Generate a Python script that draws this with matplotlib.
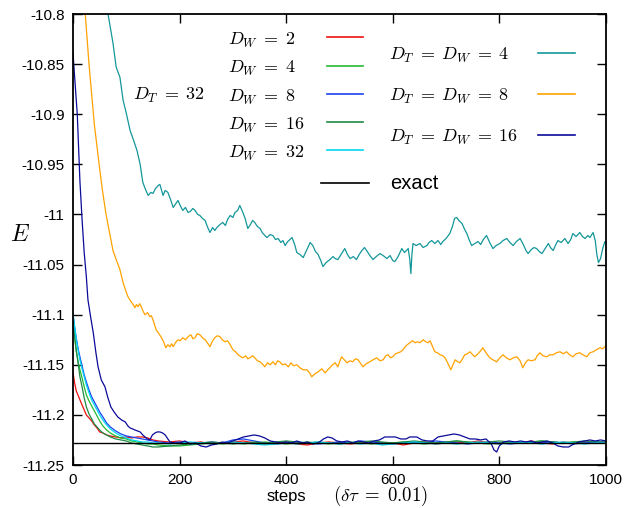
import numpy as np
import matplotlib
matplotlib.use("Agg")
import matplotlib.pyplot as plt
from matplotlib.ticker import FuncFormatter

plt.rcParams['mathtext.fontset'] = 'cm'
plt.rcParams['axes.unicode_minus'] = False
plt.rcParams['font.family'] = ['Liberation Sans', 'DejaVu Sans']

E_exact = -11.228

# D_T = D_W = 4 (teal)
teal_steps = [50, 66, 75, 81, 88, 94, 100, 107, 113, 120, 126, 131, 136, 141, 146, 150, 155, 160, 163, 169,
              173, 178, 183, 188, 193, 197, 202, 206, 211, 216, 220, 225, 229, 234, 238, 243, 248, 252, 257, 262,
              266, 270, 276, 281, 286, 290, 295, 300, 304, 309, 313, 318, 323, 328, 333, 337, 341, 346, 351, 355,
              360, 364, 370, 375, 380, 385, 390, 394, 398, 403, 407, 411, 416, 420, 426, 432, 438, 445, 450, 455,
              460, 465, 469, 475, 482, 488, 492, 497, 503, 510, 515, 520, 526, 532, 537, 542, 547, 551, 557, 563,
              569, 576, 582, 589, 595, 600, 604, 610, 617, 622, 629, 632, 634, 636, 638, 644, 651, 657, 664, 668,
              673, 679, 685, 690, 694, 700, 707, 712, 716, 720, 724, 730, 735, 739, 744, 748, 754, 760, 765, 770,
              776, 782, 788, 794, 801, 807, 814, 820, 826, 832, 839, 845, 850, 854, 860, 865, 870, 875, 880, 886,
              892, 896, 901, 906, 910, 916, 923, 929, 934, 938, 944, 951, 956, 961, 966, 970, 976, 980, 983, 986,
              990, 994, 998, 1000]
teal_E = [-10.770, -10.801, -10.829, -10.853, -10.863, -10.886, -10.899, -10.916, -10.925, -10.936,
          -10.950, -10.968, -10.975, -10.981, -10.978, -10.979, -10.974, -10.971, -10.970, -10.981,
          -10.976, -10.978, -10.985, -10.993, -10.989, -10.986, -10.992, -10.996, -10.993, -10.998,
          -10.997, -10.994, -10.996, -11.000, -11.001, -11.004, -11.006, -11.012, -11.018, -11.013,
          -11.016, -11.013, -11.010, -11.008, -11.011, -11.005, -11.001, -11.003, -10.998, -10.996,
          -10.991, -10.997, -11.004, -11.014, -11.010, -11.006, -11.008, -11.012, -11.014, -11.018,
          -11.021, -11.023, -11.020, -11.021, -11.025, -11.024, -11.028, -11.026, -11.031, -11.027,
          -11.025, -11.023, -11.030, -11.038, -11.040, -11.043, -11.036, -11.028, -11.031, -11.037,
          -11.040, -11.046, -11.052, -11.048, -11.045, -11.042, -11.044, -11.045, -11.040, -11.034,
          -11.040, -11.044, -11.042, -11.045, -11.040, -11.036, -11.033, -11.036, -11.041, -11.045,
          -11.042, -11.039, -11.041, -11.044, -11.041, -11.046, -11.047, -11.042, -11.034, -11.038,
          -11.034, -11.045, -11.059, -11.040, -11.029, -11.031, -11.029, -11.033, -11.031, -11.028,
          -11.026, -11.029, -11.026, -11.030, -11.027, -11.024, -11.019, -11.012, -11.004, -11.003,
          -11.006, -11.009, -11.015, -11.019, -11.026, -11.031, -11.029, -11.027, -11.030, -11.025,
          -11.021, -11.028, -11.034, -11.031, -11.029, -11.026, -11.024, -11.028, -11.031, -11.027,
          -11.024, -11.030, -11.036, -11.039, -11.035, -11.033, -11.034, -11.037, -11.039, -11.034,
          -11.029, -11.033, -11.036, -11.030, -11.026, -11.028, -11.024, -11.029, -11.025, -11.019,
          -11.022, -11.018, -11.022, -11.024, -11.021, -11.023, -11.018, -11.026, -11.040, -11.048,
          -11.044, -11.034, -11.027, -11.029]

# D_T = D_W = 8 (orange)
orange_steps = [15, 23, 30, 35, 40, 49, 55, 62, 70, 75, 81, 88, 94, 99, 103, 109, 113, 116, 119, 122,
                125, 128, 132, 135, 140, 144, 147, 150, 153, 156, 160, 165, 170, 174, 178, 182, 185, 188, 192, 197,
                201, 206, 211, 216, 221, 225, 229, 233, 238, 243, 248, 252, 257, 261, 266, 271, 276, 280, 285, 290,
                295, 300, 305, 310, 315, 319, 324, 328, 332, 337, 341, 346, 351, 355, 360, 365, 370, 375, 380, 384,
                388, 393, 398, 404, 409, 414, 420, 426, 432, 439, 444, 448, 454, 460, 467, 473, 478, 482, 487, 492,
                497, 501, 504, 509, 514, 520, 525, 530, 535, 540, 544, 550, 557, 563, 570, 576, 582, 587, 591, 596,
                600, 605, 610, 615, 619, 625, 632, 637, 642, 646, 651, 657, 662, 666, 670, 675, 679, 684, 689, 694,
                698, 703, 709, 713, 717, 722, 726, 731, 735, 740, 745, 750, 754, 760, 765, 769, 775, 782, 788, 795,
                801, 807, 813, 820, 826, 833, 839, 844, 849, 854, 860, 867, 871, 876, 882, 889, 895, 901, 907, 914,
                920, 926, 932, 938, 944, 951, 957, 964, 970, 976, 982, 989, 994, 1000]
orange_E = [-10.760, -10.800, -10.850, -10.880, -10.910, -10.950, -10.975, -11.000, -11.022, -11.036,
            -11.045, -11.055, -11.068, -11.076, -11.082, -11.087, -11.090, -11.093, -11.090, -11.092,
            -11.089, -11.092, -11.097, -11.100, -11.098, -11.102, -11.101, -11.105, -11.110, -11.115,
            -11.118, -11.122, -11.127, -11.133, -11.130, -11.132, -11.129, -11.132, -11.128, -11.125,
            -11.126, -11.123, -11.125, -11.122, -11.120, -11.124, -11.123, -11.119, -11.120, -11.123,
            -11.125, -11.128, -11.132, -11.127, -11.123, -11.121, -11.122, -11.125, -11.127, -11.126,
            -11.130, -11.135, -11.137, -11.140, -11.142, -11.143, -11.141, -11.144, -11.143, -11.141,
            -11.143, -11.146, -11.147, -11.149, -11.152, -11.148, -11.150, -11.147, -11.150, -11.146,
            -11.147, -11.150, -11.149, -11.152, -11.148, -11.151, -11.150, -11.153, -11.155, -11.155,
            -11.158, -11.162, -11.159, -11.157, -11.154, -11.158, -11.155, -11.153, -11.150, -11.148,
            -11.152, -11.146, -11.142, -11.145, -11.148, -11.146, -11.147, -11.144, -11.145, -11.149,
            -11.152, -11.149, -11.147, -11.145, -11.143, -11.146, -11.145, -11.141, -11.140, -11.143,
            -11.142, -11.139, -11.138, -11.137, -11.135, -11.131, -11.128, -11.126, -11.128, -11.127,
            -11.128, -11.125, -11.127, -11.128, -11.126, -11.132, -11.137, -11.138, -11.140, -11.141,
            -11.143, -11.148, -11.155, -11.150, -11.145, -11.147, -11.148, -11.144, -11.140, -11.139,
            -11.137, -11.140, -11.142, -11.139, -11.136, -11.133, -11.138, -11.143, -11.145, -11.147,
            -11.143, -11.140, -11.143, -11.145, -11.143, -11.142, -11.146, -11.153, -11.148, -11.145,
            -11.146, -11.145, -11.141, -11.138, -11.141, -11.142, -11.140, -11.140, -11.138, -11.137,
            -11.139, -11.137, -11.140, -11.142, -11.139, -11.138, -11.140, -11.142, -11.138, -11.137,
            -11.135, -11.133, -11.134, -11.131]

# D_T = D_W = 16 (navy)
navy_steps = [0, 4, 8, 13, 17, 21, 25, 28, 33, 38, 43, 47, 53, 60, 65, 71, 77, 84, 91, 98,
              103, 107, 112, 116, 121, 126, 131, 135, 140, 144, 149, 154, 158, 163, 168, 173, 178, 182, 190, 200,
              210, 220, 230, 240, 250, 260, 270, 280, 290, 300, 310, 320, 330, 340, 350, 360, 370, 380, 390, 400,
              410, 420, 430, 440, 450, 460, 470, 478, 486, 495, 505, 515, 525, 535, 545, 555, 565, 575, 585, 595,
              605, 615, 625, 632, 645, 655, 665, 675, 685, 695, 705, 715, 725, 735, 745, 755, 765, 775, 785, 790,
              795, 800, 808, 818, 830, 840, 850, 860, 870, 880, 890, 900, 910, 920, 930, 940, 950, 960, 970, 980,
              990, 1000]
navy_E = [-10.839, -10.870, -10.900, -10.967, -11.005, -11.038, -11.062, -11.085, -11.102, -11.118,
          -11.138, -11.152, -11.165, -11.172, -11.182, -11.192, -11.197, -11.202, -11.205, -11.207,
          -11.211, -11.213, -11.214, -11.215, -11.216, -11.217, -11.220, -11.222, -11.224, -11.225,
          -11.220, -11.218, -11.217, -11.217, -11.218, -11.220, -11.224, -11.227, -11.228, -11.228,
          -11.226, -11.229, -11.228, -11.231, -11.232, -11.230, -11.229, -11.227, -11.228, -11.226,
          -11.224, -11.222, -11.221, -11.220, -11.221, -11.223, -11.226, -11.227, -11.228, -11.227,
          -11.228, -11.226, -11.228, -11.227, -11.229, -11.228, -11.224, -11.222, -11.223, -11.226,
          -11.227, -11.226, -11.228, -11.226, -11.227, -11.228, -11.226, -11.225, -11.222, -11.222,
          -11.222, -11.224, -11.224, -11.222, -11.222, -11.225, -11.226, -11.226, -11.222, -11.221,
          -11.220, -11.219, -11.220, -11.222, -11.224, -11.224, -11.225, -11.224, -11.229, -11.235,
          -11.237, -11.231, -11.227, -11.226, -11.227, -11.226, -11.227, -11.226, -11.228, -11.227,
          -11.226, -11.228, -11.231, -11.232, -11.232, -11.229, -11.227, -11.226, -11.225, -11.226,
          -11.225, -11.226]

# D_T = 32, various D_W
low_steps = [0, 3, 6, 10, 13, 17, 21, 25, 30, 35, 40, 45, 50, 56, 63, 70, 80, 90, 100, 110,
             120, 130, 140, 150, 160, 180, 200, 220, 240, 260, 280, 300, 320, 340, 360, 380, 400, 420, 440, 460,
             480, 500, 520, 540, 560, 580, 600, 620, 640, 660, 680, 700, 720, 740, 760, 780, 800, 820, 840, 860,
             880, 900, 920, 940, 960, 980, 1000]
dw2_E = [-11.158, -11.168, -11.176, -11.181, -11.185, -11.190, -11.195, -11.200, -11.203, -11.206,
         -11.210, -11.213, -11.217, -11.218, -11.220, -11.221, -11.222, -11.223, -11.222, -11.223,
         -11.222, -11.222, -11.223, -11.225, -11.226, -11.227, -11.226, -11.228, -11.227, -11.229,
         -11.228, -11.227, -11.226, -11.228, -11.229, -11.228, -11.227, -11.229, -11.230, -11.228,
         -11.227, -11.228, -11.229, -11.228, -11.227, -11.229, -11.228, -11.230, -11.228, -11.227,
         -11.229, -11.228, -11.227, -11.228, -11.226, -11.228, -11.229, -11.227, -11.228, -11.226,
         -11.228, -11.229, -11.227, -11.228, -11.227, -11.228, -11.227]
dw4_E = [-11.105, -11.122, -11.136, -11.148, -11.155, -11.163, -11.172, -11.180, -11.186, -11.191,
         -11.196, -11.201, -11.206, -11.211, -11.215, -11.218, -11.221, -11.223, -11.224, -11.226,
         -11.227, -11.228, -11.229, -11.229, -11.230, -11.231, -11.231, -11.230, -11.229, -11.228,
         -11.229, -11.228, -11.229, -11.228, -11.227, -11.228, -11.229, -11.228, -11.227, -11.228,
         -11.229, -11.228, -11.227, -11.228, -11.229, -11.228, -11.228, -11.227, -11.228, -11.229,
         -11.228, -11.227, -11.226, -11.227, -11.228, -11.229, -11.228, -11.227, -11.228, -11.227,
         -11.226, -11.227, -11.228, -11.227, -11.228, -11.227, -11.228]
dw8_E = [-11.100, -11.112, -11.123, -11.135, -11.142, -11.151, -11.160, -11.167, -11.175, -11.182,
         -11.187, -11.192, -11.197, -11.202, -11.208, -11.212, -11.216, -11.219, -11.221, -11.222,
         -11.223, -11.224, -11.225, -11.226, -11.227, -11.228, -11.227, -11.229, -11.228, -11.227,
         -11.228, -11.225, -11.224, -11.226, -11.228, -11.229, -11.228, -11.227, -11.228, -11.229,
         -11.228, -11.227, -11.228, -11.226, -11.227, -11.228, -11.229, -11.228, -11.227, -11.228,
         -11.226, -11.227, -11.228, -11.229, -11.228, -11.227, -11.228, -11.229, -11.228, -11.227,
         -11.228, -11.227, -11.228, -11.229, -11.228, -11.227, -11.227]
dw16_E = [-11.108, -11.122, -11.135, -11.150, -11.162, -11.172, -11.183, -11.192, -11.199, -11.204,
          -11.209, -11.212, -11.215, -11.218, -11.220, -11.222, -11.224, -11.225, -11.226, -11.228,
          -11.229, -11.230, -11.231, -11.232, -11.232, -11.231, -11.230, -11.229, -11.228, -11.227,
          -11.228, -11.229, -11.228, -11.227, -11.228, -11.227, -11.226, -11.227, -11.228, -11.227,
          -11.228, -11.229, -11.228, -11.227, -11.226, -11.227, -11.228, -11.227, -11.226, -11.227,
          -11.228, -11.227, -11.226, -11.227, -11.228, -11.227, -11.226, -11.227, -11.228, -11.227,
          -11.226, -11.227, -11.228, -11.227, -11.226, -11.227, -11.227]
dw32_E = [-11.099, -11.112, -11.124, -11.137, -11.145, -11.154, -11.162, -11.170, -11.178, -11.185,
          -11.190, -11.195, -11.200, -11.205, -11.210, -11.214, -11.218, -11.221, -11.223, -11.225,
          -11.226, -11.227, -11.227, -11.228, -11.228, -11.229, -11.228, -11.227, -11.228, -11.229,
          -11.228, -11.227, -11.228, -11.229, -11.230, -11.229, -11.228, -11.229, -11.228, -11.227,
          -11.228, -11.229, -11.228, -11.229, -11.228, -11.230, -11.229, -11.228, -11.227, -11.228,
          -11.229, -11.228, -11.229, -11.228, -11.227, -11.228, -11.229, -11.228, -11.227, -11.228,
          -11.229, -11.228, -11.227, -11.228, -11.229, -11.228, -11.228]

dw_labels = [r'$D_W \;=\; 2$', r'$D_W \;=\; 4$', r'$D_W \;=\; 8$', r'$D_W \;=\; 16$', r'$D_W \;=\; 32$']
dt_labels = [r'$D_T \;=\; D_W \;=\; 4$', r'$D_T \;=\; D_W \;=\; 8$', r'$D_T \;=\; D_W \;=\; 16$']

c_dw = ['#ee1111', '#22bb33', '#1a44ee', '#1f8a45', '#00d8ee']
c_dt = ['#14979a', '#ffa200', '#0b0b9a']

fig = plt.figure(figsize=(6.24, 5.08), dpi=100)
ax = fig.add_axes([0.117, 0.0846, 0.854, 0.8878])

lw = 0.9
for E, c in zip([dw2_E, dw4_E, dw8_E, dw16_E, dw32_E], c_dw):
    ax.plot(low_steps, E, color=c, lw=lw)
for s, E, c in zip([teal_steps, orange_steps, navy_steps], [teal_E, orange_E, navy_E], c_dt):
    ax.plot(s, E, color=c, lw=lw)
ax.axhline(E_exact, color='black', lw=1.0)

ax.set_xlim(0, 1000)
ax.set_ylim(-11.25, -10.8)
ax.set_xticks(np.arange(0, 1001, 200))
ax.set_yticks(np.arange(-11.25, -10.79, 0.05))
ax.yaxis.set_major_formatter(FuncFormatter(lambda v, p: '%g' % round(v, 2)))
ax.tick_params(direction='in', top=True, right=True, length=6.5, width=1.0,
               labelsize=11, pad=6)
for sp in ax.spines.values():
    sp.set_linewidth(1.3)

# axis labels
fig.text(267 / 624, 7 / 508, 'steps', fontsize=12, ha='left', va='baseline')
fig.text(333 / 624, 7 / 508, r'$(\delta\tau \;=\; 0.01)$', fontsize=13.5, ha='left', va='baseline')
ax.text(-0.118, 0.4967, r'$E$', transform=ax.transAxes, fontsize=17, ha='left', va='baseline')

ax.text(0.1126, 0.8093, r'$D_T \;=\; 32$', transform=ax.transAxes, fontsize=13, ha='left', va='baseline')

# key, gnuplot style (text left, sample right)
tr = ax.transAxes
dw_rows = [0.9483, 0.8854, 0.8226, 0.7605, 0.6984]
for lab, c, y in zip(dw_labels, c_dw, dw_rows):
    ax.text(0.291, y - 0.017, lab, transform=tr, fontsize=13, ha='left', va='baseline')
    ax.plot([0.4765, 0.5441], [y, y], transform=tr, color=c, lw=1.2)
dt_rows = [0.9129, 0.8220, 0.7317]
for lab, c, y in zip(dt_labels, c_dt, dt_rows):
    ax.text(0.5929, y - 0.015, lab, transform=tr, fontsize=13, ha='left', va='baseline')
    ax.plot([0.8724, 0.9418], [y, y], transform=tr, color=c, lw=1.2)
ax.plot([0.4646, 0.5557], [0.6246, 0.6246], transform=tr, color='black', lw=1.2)
ax.text(0.596, 0.6113, 'exact', transform=tr, fontsize=14.5, ha='left', va='baseline')

fig.savefig('out.png', dpi=100)
